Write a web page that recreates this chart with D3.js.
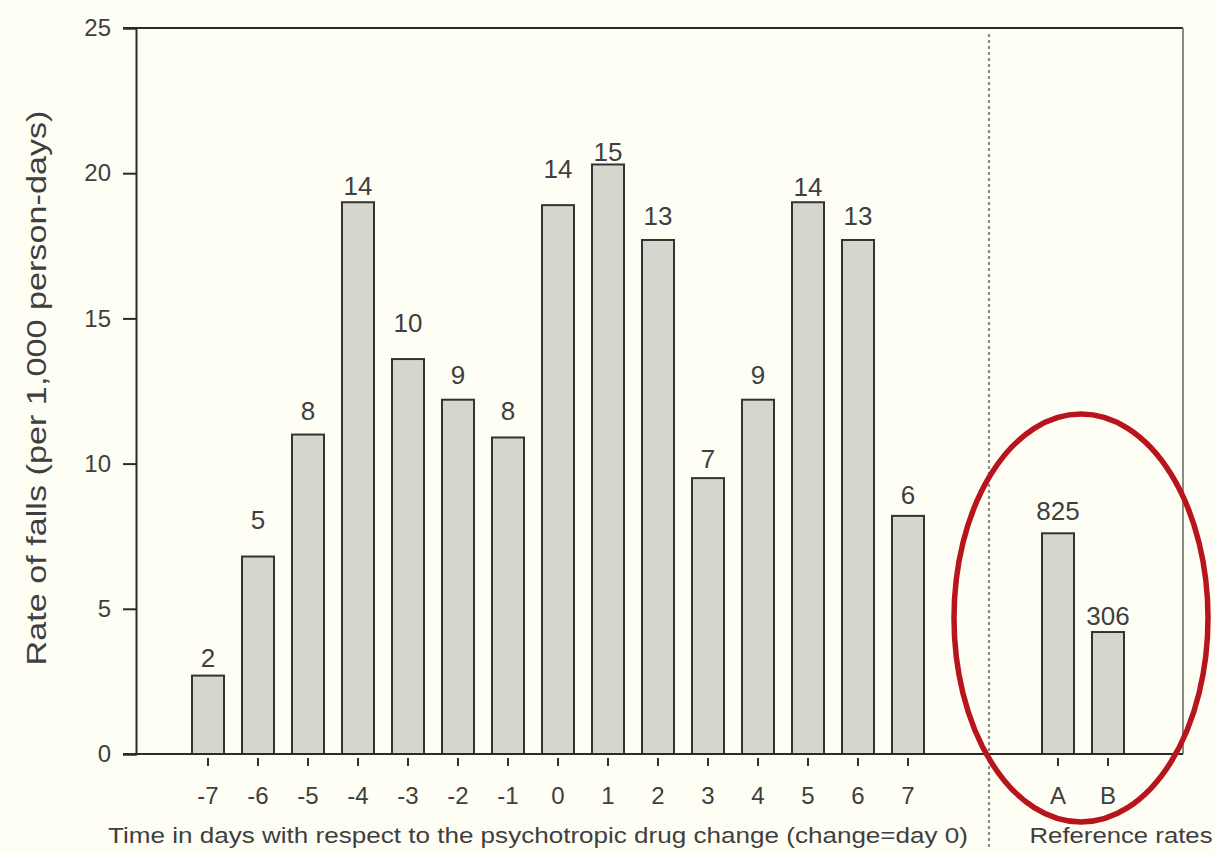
<!DOCTYPE html>
<html>
<head>
<meta charset="utf-8">
<script src="https://cdn.jsdelivr.net/npm/d3@7"></script>
<style>
  html, body { margin: 0; padding: 0; background: #fefef5; }
  svg { display: block; }
  text { font-family: "Liberation Sans", Arial, Helvetica, sans-serif; fill: #3f3f3f; }
</style>
</head>
<body>
<svg id="chart" width="1215" height="852"></svg>
<script>
// Days around the psychotropic drug change, plus two reference groups
const days = ["-7", "-6", "-5", "-4", "-3", "-2", "-1", "0", "1", "2", "3", "4", "5", "6", "7"];
const dayRates = [2.7, 6.8, 11.0, 19.0, 13.6, 12.2, 10.9, 18.9, 20.3, 17.7, 9.5, 12.2, 19.0, 17.7, 8.2];
const dayFalls = [2, 5, 8, 14, 10, 9, 8, 14, 15, 13, 7, 9, 14, 13, 6];

const refGroups = ["A", "B"];
const refRates = [7.6, 4.2];
const refFalls = [825, 306];

const yTicks = [0, 5, 10, 15, 20, 25];

// Distance (px) between each bar top and the centre of its count label
const labelGap = [18, 37, 24, 17, 36, 25, 27, 37, 13, 24, 19, 25, 16, 24, 21, 23, 16];

const svg = d3.select("#chart");
const W = 1215, H = 852;

svg.append("rect").attr("width", W).attr("height", H).attr("fill", "#fefef5");

// Two empty slots separate the day bars from the reference bars
const slots = days.concat(["gapL", "gapR"], refGroups);
const bars = days.map((d, i) => ({ key: d, rate: dayRates[i], falls: dayFalls[i] }))
  .concat(refGroups.map((d, i) => ({ key: d, rate: refRates[i], falls: refFalls[i] })));

const x = d3.scaleBand().domain(slots).range([183, 1133]).paddingInner(0.36).paddingOuter(0.18);
const y = d3.scaleLinear().domain([0, 25]).range([754, 28]);

const plotLeft = 136, plotRight = 1183;
const axisColor = "#2b2b2b";

// Frame: top line, right border, divider between day bars and reference rates
svg.append("line").attr("x1", plotLeft - 13).attr("x2", plotRight).attr("y1", y(25)).attr("y2", y(25))
  .attr("stroke", axisColor).attr("stroke-width", 2);
svg.append("line").attr("x1", plotRight).attr("x2", plotRight).attr("y1", y(25)).attr("y2", y(0))
  .attr("stroke", "#8a8a84").attr("stroke-width", 2);
const divX = x("gapR") - 3;
svg.append("line").attr("x1", divX).attr("x2", divX).attr("y1", y(25) + 6).attr("y2", 850)
  .attr("stroke", "#8c8c88").attr("stroke-width", 2.2).attr("stroke-dasharray", "3,3");

// Bars
svg.append("g").selectAll("rect").data(bars).join("rect")
  .attr("x", d => x(d.key))
  .attr("y", d => y(d.rate))
  .attr("width", x.bandwidth())
  .attr("height", d => y(0) - y(d.rate))
  .attr("fill", "#d6d6cf")
  .attr("stroke", "#333333")
  .attr("stroke-width", 2);

// Count labels above bars
svg.append("g").selectAll("text").data(bars).join("text")
  .attr("x", d => x(d.key) + x.bandwidth() / 2)
  .attr("y", (d, i) => y(d.rate) - labelGap[i])
  .attr("dy", "0.36em")
  .attr("text-anchor", "middle")
  .attr("font-size", 26)
  .text(d => d.falls);

// Y axis
const yAxis = d3.axisLeft(y).tickValues(yTicks).tickSize(13).tickPadding(12).tickFormat(d3.format("d"));
const gy = svg.append("g").attr("transform", `translate(${plotLeft},0)`).call(yAxis);
gy.select(".domain").attr("stroke", axisColor).attr("stroke-width", 2);
gy.selectAll(".tick line").attr("stroke", axisColor).attr("stroke-width", 2);
gy.selectAll(".tick text").attr("font-size", 24).attr("fill", "#444").style("font-family", "'Liberation Sans', Arial, sans-serif");

// Baseline
svg.append("line").attr("x1", plotLeft - 13).attr("x2", plotRight).attr("y1", y(0)).attr("y2", y(0))
  .attr("stroke", axisColor).attr("stroke-width", 2);

// X ticks and labels (not drawn for the empty slots)
const xKeys = days.concat(refGroups);
const xg = svg.append("g");
xg.selectAll("line").data(xKeys).join("line")
  .attr("x1", d => x(d) + x.bandwidth() / 2).attr("x2", d => x(d) + x.bandwidth() / 2)
  .attr("y1", y(0) + 4).attr("y2", y(0) + 12)
  .attr("stroke", "#333").attr("stroke-width", 2);
xg.selectAll("text").data(xKeys).join("text")
  .attr("x", d => x(d) + x.bandwidth() / 2)
  .attr("y", 795)
  .attr("dy", "0.36em")
  .attr("text-anchor", "middle")
  .attr("font-size", 24)
  .text(d => d);

// Axis titles
svg.append("text")
  .attr("transform", "translate(36,388) rotate(-90)")
  .attr("text-anchor", "middle").attr("dy", "0.36em")
  .attr("font-size", 28)
  .attr("textLength", 555).attr("lengthAdjust", "spacingAndGlyphs")
  .text("Rate of falls (per 1,000 person-days)");

svg.append("text")
  .attr("x", 538).attr("y", 835).attr("dy", "0.36em")
  .attr("text-anchor", "middle")
  .attr("font-size", 22)
  .attr("textLength", 860).attr("lengthAdjust", "spacingAndGlyphs")
  .text("Time in days with respect to the psychotropic drug change (change=day 0)");

svg.append("text")
  .attr("x", 1121).attr("y", 835).attr("dy", "0.36em")
  .attr("text-anchor", "middle")
  .attr("font-size", 22)
  .attr("textLength", 183).attr("lengthAdjust", "spacingAndGlyphs")
  .text("Reference rates");

// Highlight around the reference rates
svg.append("ellipse")
  .attr("cx", 1081).attr("cy", 618).attr("rx", 127).attr("ry", 204)
  .attr("fill", "none").attr("stroke", "#b8141c").attr("stroke-width", 5.5);
</script>
</body>
</html>
